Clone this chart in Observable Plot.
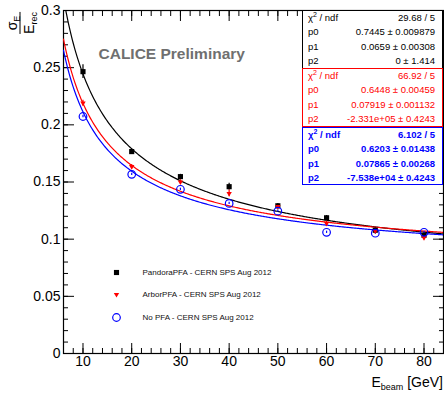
<!DOCTYPE html>
<html>
<head>
<meta charset="utf-8">
<script src="https://cdn.jsdelivr.net/npm/d3@7"></script>
<script src="https://cdn.jsdelivr.net/npm/@observablehq/plot@0.6"></script>
<style>
  body { margin: 0; background: #fff; font-family: "Liberation Sans", Arial, Helvetica, sans-serif; }
  #wrap { position: relative; width: 444px; height: 395px; }
  #wrap svg { display: block; }
  sub { font-size: 9px; vertical-align: -3px; line-height: 0; }
  sup { font-size: 7px; vertical-align: 4px; line-height: 0; }
  .stat { position: absolute; left: 302px; width: 141px; background: #fff; box-sizing: border-box; font-size: 9.5px; }
  .stat .row { display: flex; justify-content: space-between; height: 14.4px; line-height: 14.4px; padding: 0 7px 0 5px; white-space: nowrap; }
  #ylab { position: absolute; left: 20px; top: 23px; transform: translate(-50%, -50%) rotate(-90deg);
          font-size: 14px; line-height: 1; display: flex; flex-direction: column; align-items: center; }
  #ylab .num { padding: 0 1px 1px 1px; }
  #ylab .den { border-top: 1px solid #000; padding-top: 1px; }
  #xlab { position: absolute; right: 1px; top: 375px; font-size: 14px; line-height: 14px; white-space: nowrap; }
</style>
</head>
<body>
<div id="wrap"></div>
<script>
// Beam energies (GeV)
const energies = [10, 20, 30, 40, 50, 60, 70, 80];

// Relative energy resolution sigma_E / E_rec and its uncertainty, per reconstruction
const pandoraRes = [0.2465, 0.1766, 0.1547, 0.1459, 0.1292, 0.1187, 0.1078, 0.1034];
const pandoraErr = [0.0060, 0.0020, 0.0020, 0.0030, 0.0020, 0.0020, 0.0020, 0.0020];
const arborRes   = [0.2190, 0.1634, 0.1500, 0.1400, 0.1285, 0.1138, 0.1072, 0.1014];
const arborErr   = [0.0025, 0.0020, 0.0020, 0.0030, 0.0020, 0.0020, 0.0020, 0.0020];
const noPfaRes   = [0.2073, 0.1567, 0.1436, 0.1313, 0.1245, 0.1060, 0.1052, 0.1060];
const noPfaErr   = [0.0010, 0.0010, 0.0010, 0.0010, 0.0010, 0.0010, 0.0010, 0.0010];

const seriesNames = ["PandoraPFA - CERN SPS Aug 2012", "ArborPFA - CERN SPS Aug 2012", "No PFA - CERN SPS Aug 2012"];
const seriesColors = ["black", "red", "blue"];

// Fit results: sigma/E = sqrt(p0^2/E + p1^2); p2 sits at its limit and does not enter the drawn curve
const fitChi2 = [29.68, 66.92, 6.102];
const fitNdf  = [5, 5, 5];
const fitP0    = [0.7445, 0.6448, 0.6203];
const fitP0Err = [0.009879, 0.00459, 0.01438];
const fitP1    = [0.0659, 0.07919, 0.07865];
const fitP1Err = [0.00308, 0.001132, 0.00268];
const fitP2    = [0, -2.331e5, -7.538e4];
const fitP2Err = [1.414, 0.4243, 0.4243];

// Axis ticks
const xMajor = [10, 20, 30, 40, 50, 60, 70, 80];
const xMinor = d3.range(6, 85, 2);
const yMajor = [0, 0.05, 0.1, 0.15, 0.2, 0.25, 0.3];
const yMinor = d3.range(0, 0.3001, 0.01);

const watermark = ["CALICE Preliminary"];

const rows = (res, err) => energies.map((E, i) => ({E, v: res[i], err: err[i]}));
const pandora = rows(pandoraRes, pandoraErr);
const arbor = rows(arborRes, arborErr);
const noPfa = rows(noPfaRes, noPfaErr);

const fitGrid = d3.range(6, 84.001, 0.2);
const fitCurve = k => fitGrid.map(E => ({E, r: Math.sqrt(fitP0[k] ** 2 / E + fitP1[k] ** 2)}));

const errBars = (data, color) => Plot.ruleX(data, {x: "E", y1: d => d.v - d.err, y2: d => d.v + d.err, stroke: color, strokeWidth: 1.2});

// Legend rows (symbol drawn with the same options as the data)
const legendSymbols = [
  {symbol: "square", r: 2.9, fill: "black"},
  {symbol: "triangle", r: 2.0, fill: "red", rotate: 180},
  {symbol: "circle", r: 3.8, fill: "none", stroke: "blue", strokeWidth: 1.2}
];
const legendDy = [262, 284, 307];

const marks = [
  Plot.frame({stroke: "black", strokeWidth: 1.2}),
  Plot.axisX(xMinor, {anchor: "bottom", tickSize: -5, fill: "none", label: null}),
  Plot.axisX(xMajor, {anchor: "bottom", tickSize: -10, tickPadding: 13, label: null, tickFormat: d => String(d)}),
  Plot.axisX(xMinor, {anchor: "top", tickSize: -5, fill: "none", label: null}),
  Plot.axisX(xMajor, {anchor: "top", tickSize: -10, fill: "none", label: null}),
  Plot.axisY(yMinor, {anchor: "left", tickSize: -5, fill: "none", label: null}),
  Plot.axisY(yMajor, {anchor: "left", tickSize: -11, tickPadding: 14, label: null, tickFormat: d => String(d)}),
  Plot.axisY(yMinor, {anchor: "right", tickSize: -5, fill: "none", label: null}),
  Plot.axisY(yMajor, {anchor: "right", tickSize: -11, fill: "none", label: null}),
  Plot.text(watermark, {frameAnchor: "top-left", text: d => d, dx: 35, dy: 48, textAnchor: "start", lineAnchor: "bottom",
    fontSize: 15.5, fontWeight: "bold", fill: "#6f6f6f"}),
  // fit curves
  ...[0, 1, 2].map(k => Plot.line(fitCurve(k), {x: "E", y: "r", stroke: seriesColors[k], strokeWidth: 1.2, clip: true})),
  // measurements
  errBars(pandora, "black"),
  errBars(arbor, "red"),
  errBars(noPfa, "blue"),
  Plot.dot(pandora, {x: "E", y: "v", ...legendSymbols[0]}),
  Plot.dot(arbor, {x: "E", y: "v", ...legendSymbols[1]}),
  Plot.dot(noPfa, {x: "E", y: "v", ...legendSymbols[2]}),
  // legend
  ...[0, 1, 2].map(k => Plot.dot([seriesNames[k]], {frameAnchor: "top-left", dx: 53, dy: legendDy[k], ...legendSymbols[k]})),
  ...[0, 1, 2].map(k => Plot.text([seriesNames[k]], {frameAnchor: "top-left", text: d => d, dx: 79, dy: legendDy[k],
    textAnchor: "start", lineAnchor: "middle", fontSize: 8, fill: "#111"}))
];

const chart = Plot.plot({
  width: 444,
  height: 395,
  marginLeft: 63,
  marginRight: 1,
  marginTop: 10,
  marginBottom: 42,
  style: {fontFamily: '"Liberation Sans", Arial, Helvetica, sans-serif', fontSize: "14px", background: "#fff", color: "black", overflow: "visible"},
  x: {domain: [6, 84], label: null},
  y: {domain: [0, 0.3], label: null},
  marks
});

const wrap = document.getElementById("wrap");
wrap.appendChild(chart);

// Fit statistics boxes
const fmt = v => (v !== 0 && Math.abs(v) >= 1e4)
  ? v.toExponential(3).replace(/e([+-])(\d)$/, "e$10$2")
  : String(v);
const boxTops = [10, 67.5, 126.5];
const boxHeights = [58.5, 59.5, 58.5];
const boxBorders = ["1px solid black", "1.5px solid red", "1.5px solid blue"];
[0, 1, 2].forEach(k => {
  const box = document.createElement("div");
  box.className = "stat";
  box.style.top = boxTops[k] + "px";
  box.style.height = boxHeights[k] + "px";
  box.style.border = boxBorders[k];
  box.style.color = seriesColors[k];
  box.style.fontWeight = k === 2 ? "bold" : "normal";
  box.style.paddingTop = k === 0 ? "0px" : "0.5px";
  const lines = [
    ["χ<sup>2</sup> / ndf", `${fmt(fitChi2[k])} / ${fitNdf[k]}`],
    ["p0", `${fmt(fitP0[k])} ± ${fmt(fitP0Err[k])}`],
    ["p1", `${fmt(fitP1[k])} ± ${fmt(fitP1Err[k])}`],
    ["p2", `${fmt(fitP2[k])} ± ${fmt(fitP2Err[k])}`]
  ];
  box.innerHTML = lines.map(([a, b]) => `<div class="row"><span>${a}</span><span>${b}</span></div>`).join("");
  wrap.appendChild(box);
});

// Axis titles
const ylab = document.createElement("div");
ylab.id = "ylab";
ylab.innerHTML = `<div class="num">σ<sub>E</sub></div><div class="den">E<sub>rec</sub></div>`;
wrap.appendChild(ylab);

const xlab = document.createElement("div");
xlab.id = "xlab";
xlab.innerHTML = `E<sub>beam</sub> [GeV]`;
wrap.appendChild(xlab);
</script>
</body>
</html>
